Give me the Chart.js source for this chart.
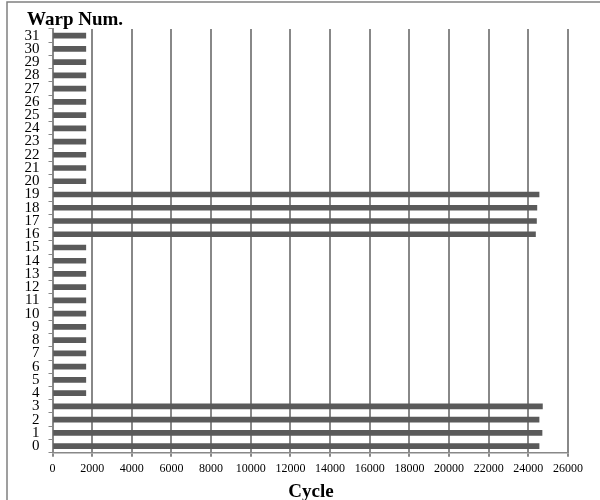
<!DOCTYPE html>
<html>
<head>
<meta charset="utf-8">
<script src="https://cdn.jsdelivr.net/npm/chart.js@4/dist/chart.umd.min.js"></script>
<style>
  body { margin: 0; background: #fff; }
  canvas { display: block; }
</style>
</head>
<body>
<canvas id="warpChart" width="600" height="500"></canvas>
<script>
// warp index (bottom to top) and the cycle each warp finished at
const warpLabels = ['0','1','2','3','4','5','6','7','8','9','10','11','12','13','14','15',
                    '16','17','18','19','20','21','22','23','24','25','26','27','28','29','30','31'];
const cycleValues = [24540, 24690, 24540, 24710,
                     1680, 1680, 1680, 1680, 1680, 1680, 1680, 1680, 1680, 1680, 1680, 1680,
                     24360, 24410, 24430, 24540,
                     1680, 1680, 1680, 1680, 1680, 1680, 1680, 1680, 1680, 1680, 1680, 1680];
const xMin = 0, xMax = 26000, xStep = 2000;
const yTitle = 'Warp Num.';
const xTitle = 'Cycle';

const serif = "'Liberation Serif', 'Times New Roman', serif";
const gridGray = 'rgb(136,136,136)';

const framePlugin = {
    id: 'frameAndTitles',
    afterDraw(chart) {
        const ctx = chart.ctx;
        ctx.save();
        // outer frame (only top and left edges visible)
        ctx.strokeStyle = 'rgb(128,128,128)';
        ctx.lineWidth = 1.5;
        ctx.beginPath();
        ctx.moveTo(7, 500);
        ctx.lineTo(7, 2);
        ctx.lineTo(600, 2);
        ctx.stroke();
        // axis titles
        ctx.fillStyle = '#000';
        ctx.font = 'bold 19px ' + serif;
        ctx.textBaseline = 'alphabetic';
        ctx.textAlign = 'left';
        ctx.fillText(yTitle, 27, 25);
        ctx.textAlign = 'center';
        ctx.fillText(xTitle, 311, 497);
        ctx.restore();
    }
};

const ctx = document.getElementById('warpChart').getContext('2d');
new Chart(ctx, {
    type: 'bar',
    data: {
        labels: warpLabels,
        datasets: [{
            label: 'Cycle',
            data: cycleValues,
            backgroundColor: 'rgb(90,90,90)',
            borderWidth: 0,
            barThickness: 5
        }]
    },
    options: {
        indexAxis: 'y',
        responsive: false,
        animation: false,
        layout: { padding: { top: 29, right: 32, left: 0, bottom: 0 } },
        plugins: {
            legend: { display: false },
            tooltip: { enabled: false }
        },
        scales: {
            x: {
                min: xMin,
                max: xMax,
                afterFit: function(scale) { scale.height = 47.3; },
                ticks: {
                    stepSize: xStep,
                    color: '#000',
                    font: { family: serif, size: 12 },
                    padding: 5,
                    maxRotation: 0,
                    autoSkip: false,
                    callback: function(value) { return String(value); }
                },
                grid: {
                    color: gridGray,
                    lineWidth: 2,
                    tickLength: 4,
                    tickColor: gridGray
                },
                border: { color: gridGray, width: 1.5 }
            },
            y: {
                reverse: true,
                afterFit: function(scale) { scale.width = 52.5; },
                ticks: {
                    color: '#000',
                    font: { family: serif, size: 15 },
                    padding: 9,
                    autoSkip: false
                },
                grid: {
                    drawOnChartArea: false,
                    tickLength: 4,
                    tickColor: gridGray,
                    lineWidth: 1
                },
                border: { color: gridGray, width: 2 }
            }
        }
    },
    plugins: [framePlugin]
});
</script>
</body>
</html>
